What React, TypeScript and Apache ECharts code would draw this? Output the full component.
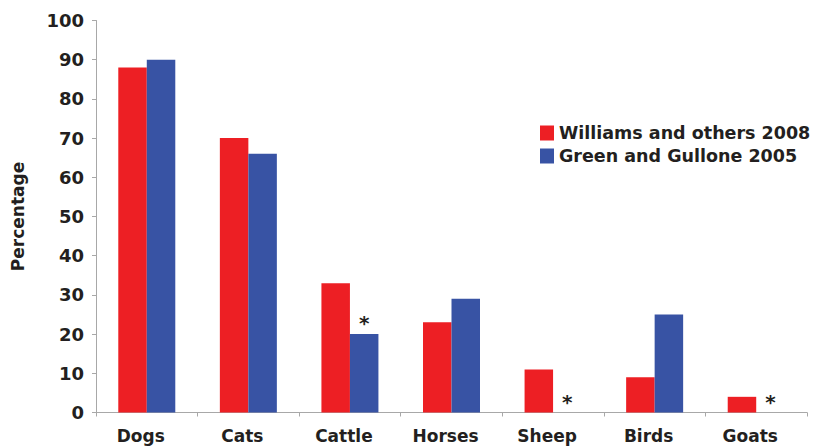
import React, { useEffect, useRef } from "react";
import * as echarts from "echarts";

const categories = ["Dogs", "Cats", "Cattle", "Horses", "Sheep", "Birds", "Goats"];
const williams2008 = [88, 70, 33, 23, 11, 9, 4];
const green2005: (number | null)[] = [90, 66, 20, 29, null, 25, null];
const greenNotes = ["", "", "*", "", "*", "", "*"];
const yTicks = [0, 10, 20, 30, 40, 50, 60, 70, 80, 90, 100];

const RED = "#ed1f24";
const BLUE = "#3853a4";
const AXIS = "#a8a8a8";
const FONT = "DejaVu Sans";
const INK = "#231f20";

export default function App() {
  const ref = useRef<HTMLDivElement>(null);
  useEffect(() => {
    if (!ref.current) return;
    const chart = echarts.init(ref.current, undefined, { renderer: "svg" });
    chart.setOption({
      animation: false,
      backgroundColor: "#ffffff",
      textStyle: { fontFamily: FONT },
      legend: {
        orient: "vertical",
        left: 535,
        top: 119,
        itemWidth: 14,
        itemHeight: 15,
        itemGap: 5,
        icon: "rect",
        textStyle: {
          fontFamily: FONT,
          fontWeight: "bold",
          fontSize: 17.5,
          lineHeight: 18,
          color: INK,
          padding: [0, 0, 0, 0],
        },
        data: ["Williams and others 2008", "Green and Gullone 2005"],
      },
      grid: { left: 96, right: 8, top: 20.5, bottom: 35.5, containLabel: false },
      xAxis: {
        type: "category",
        data: categories,
        axisLine: { lineStyle: { color: AXIS, width: 1 } },
        axisTick: { show: true, length: 4, lineStyle: { color: AXIS } },
        axisLabel: {
          fontFamily: FONT,
          fontWeight: "bold",
          fontSize: 17,
          color: INK,
          margin: 15,
          padding: [0, 12, 0, 0],
        },
      },
      yAxis: {
        type: "value",
        min: yTicks[0],
        max: yTicks[yTicks.length - 1],
        interval: 10,
        name: "Percentage",
        nameLocation: "middle",
        nameRotate: 90,
        nameGap: 70,
        nameTextStyle: { fontFamily: FONT, fontWeight: "bold", fontSize: 17, color: INK },
        axisLine: { show: true, lineStyle: { color: AXIS, width: 1 } },
        axisTick: { show: true, length: 4, lineStyle: { color: AXIS } },
        splitLine: { show: false },
        axisLabel: {
          fontFamily: FONT,
          fontWeight: "bold",
          fontSize: 18,
          color: INK,
          margin: 12,
        },
      },
      series: [
        {
          name: "Williams and others 2008",
          type: "bar",
          data: williams2008,
          barWidth: 28.5,
          barGap: "0%",
          itemStyle: { color: RED },
        },
        {
          name: "Green and Gullone 2005",
          type: "bar",
          barWidth: 28.5,
          barGap: "0%",
          itemStyle: { color: BLUE },
          data: green2005.map((v, i) => ({
            value: v ?? 0,
            label: {
              show: greenNotes[i] !== "",
              formatter: greenNotes[i],
              position: "top",
              distance: 1,
              fontFamily: FONT,
              fontWeight: "bold",
              fontSize: 20,
              color: INK,
            },
          })),
        },
      ],
    });
    return () => chart.dispose();
  }, []);
  return <div ref={ref} style={{ width: 815, height: 448, position: "absolute", left: 0, top: 0 }} />;
}
